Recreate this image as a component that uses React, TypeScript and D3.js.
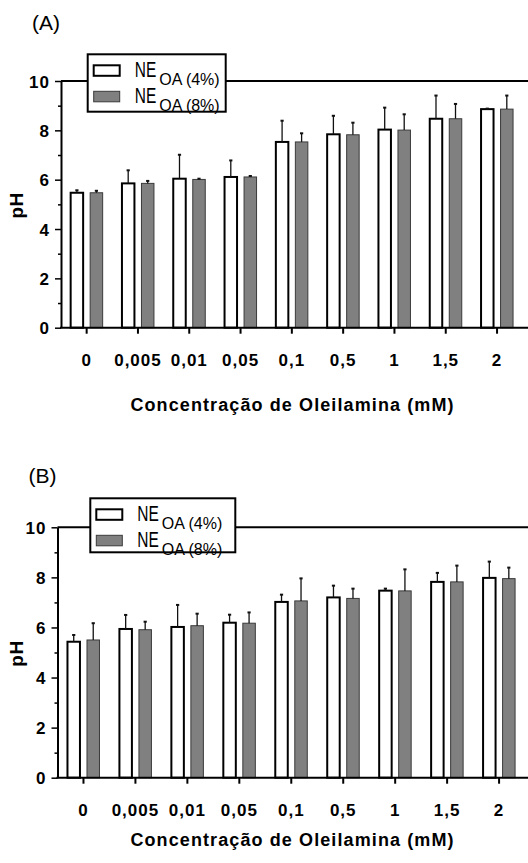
import * as d3 from "d3";
import { useEffect, useRef } from "react";

const concentrations = ["0", "0,005", "0,01", "0,05", "0,1", "0,5", "1", "1,5", "2"];
const seriesKeys = ["4%", "8%"];
const majorTicks = [0, 2, 4, 6, 8, 10];
const minorTicks = [1, 3, 5, 7, 9];

// Panel (A)
const phA4 = [5.47, 5.85, 6.04, 6.11, 7.53, 7.84, 8.03, 8.47, 8.86];
const errA4 = [0.1, 0.53, 0.97, 0.67, 0.86, 0.75, 0.89, 0.94, 0.02];
const phA8 = [5.47, 5.85, 6.01, 6.11, 7.53, 7.82, 8.01, 8.47, 8.86];
const errA8 = [0.08, 0.1, 0.03, 0.04, 0.35, 0.49, 0.64, 0.6, 0.55];

// Panel (B)
const phB4 = [5.43, 5.94, 6.02, 6.19, 7.02, 7.2, 7.47, 7.82, 7.98];
const errB4 = [0.27, 0.56, 0.88, 0.32, 0.29, 0.47, 0.08, 0.36, 0.65];
const phB8 = [5.5, 5.91, 6.07, 6.17, 7.06, 7.16, 7.46, 7.82, 7.95];
const errB8 = [0.67, 0.32, 0.48, 0.43, 0.9, 0.39, 0.86, 0.65, 0.44];

const W = 528;
const H = 863;
const FONT = "'Liberation Sans', Arial, sans-serif";

interface PanelCfg {
    label: string;
    v4: number[];
    e4: number[];
    v8: number[];
    e8: number[];
    left: number;
    y0: number;
    y10: number;
    step: number;
    labelX: number;
    labelY: number;
    titleY: number;
    legend: { x: number; y: number; w: number; h: number };
}

const panels: PanelCfg[] = [
    {
        label: "(A)", v4: phA4, e4: errA4, v8: phA8, e8: errA8,
        left: 61, y0: 327.7, y10: 81, step: 51.3,
        labelX: 32, labelY: 30, titleY: 410.5,
        legend: { x: 87.7, y: 54.3, w: 138, h: 57.4 },
    },
    {
        label: "(B)", v4: phB4, e4: errB4, v8: phB8, e8: errB8,
        left: 57.5, y0: 777.7, y10: 527.3, step: 51.95,
        labelX: 28.5, labelY: 483, titleY: 846,
        legend: { x: 90.3, y: 498.3, w: 145, h: 54 },
    },
];

function drawPanel(svg: d3.Selection<SVGSVGElement, unknown, null, undefined>, cfg: PanelCfg) {
    const g = svg.append("g");

    const x0 = d3.scaleBand<string>()
        .domain(concentrations)
        .range([cfg.left, cfg.left + cfg.step * concentrations.length]);
    const bw = x0.bandwidth();
    const x1 = d3.scaleBand<string>()
        .domain(seriesKeys)
        .range([bw / 2 - 16, bw / 2 + 16])
        .paddingInner(0.36);
    const y = d3.scaleLinear().domain([0, 10]).range([cfg.y0, cfg.y10]);

    const rows = concentrations.map((c, i) => ({
        c,
        vals: [
            { key: "4%", v: cfg.v4[i], e: cfg.e4[i] },
            { key: "8%", v: cfg.v8[i], e: cfg.e8[i] },
        ],
    }));

    // bars
    const groups = g.selectAll("g.grp")
        .data(rows)
        .enter()
        .append("g")
        .attr("transform", (d) => `translate(${x0(d.c)},0)`);

    groups.selectAll("rect")
        .data((d) => d.vals)
        .enter()
        .append("rect")
        .attr("x", (d) => x1(d.key)!)
        .attr("y", (d) => y(d.v))
        .attr("width", x1.bandwidth())
        .attr("height", (d) => y(0) - y(d.v))
        .attr("fill", (d) => (d.key === "4%" ? "white" : "#808080"))
        .attr("stroke", (d) => (d.key === "4%" ? "black" : "#3a3a3a"))
        .attr("stroke-width", (d) => (d.key === "4%" ? 2 : 1));

    // error bars (upper only)
    const eb = groups.selectAll("g.err")
        .data((d) => d.vals)
        .enter()
        .append("g");
    eb.append("line")
        .attr("x1", (d) => x1(d.key)! + x1.bandwidth() / 2)
        .attr("x2", (d) => x1(d.key)! + x1.bandwidth() / 2)
        .attr("y1", (d) => y(d.v))
        .attr("y2", (d) => y(d.v + d.e))
        .attr("stroke", "#111")
        .attr("stroke-width", 1.3);
    eb.append("line")
        .attr("x1", (d) => x1(d.key)! + x1.bandwidth() / 2 - 1.6)
        .attr("x2", (d) => x1(d.key)! + x1.bandwidth() / 2 + 1.6)
        .attr("y1", (d) => y(d.v + d.e))
        .attr("y2", (d) => y(d.v + d.e))
        .attr("stroke", "#111")
        .attr("stroke-width", 2);

    // top reference line at 10 and x baseline
    g.append("line")
        .attr("x1", cfg.left).attr("x2", W)
        .attr("y1", y(10)).attr("y2", y(10))
        .attr("stroke", "black").attr("stroke-width", 2);
    g.append("line")
        .attr("x1", cfg.left - 1).attr("x2", W)
        .attr("y1", y(0)).attr("y2", y(0))
        .attr("stroke", "black").attr("stroke-width", 2);

    // y axis
    const yAxis = g.append("g")
        .attr("transform", `translate(${cfg.left},0)`)
        .call(d3.axisLeft(y).tickValues(majorTicks).tickSize(6).tickSizeOuter(0).tickPadding(5).tickFormat(d3.format("d")));
    yAxis.select(".domain").attr("stroke-width", 2);
    yAxis.selectAll(".tick line").attr("stroke-width", 1.5);
    yAxis.selectAll("text")
        .style("font-family", FONT)
        .style("font-weight", "bold")
        .style("font-size", "17px")
        .style("letter-spacing", "1px")
        .attr("dy", "0.36em");

    const yMinor = g.append("g")
        .attr("transform", `translate(${cfg.left},0)`)
        .call(d3.axisLeft(y).tickValues(minorTicks).tickSize(3).tickSizeOuter(0).tickFormat(() => ""));
    yMinor.select(".domain").remove();
    yMinor.selectAll(".tick line").attr("stroke-width", 1.5);

    // x axis ticks and labels
    const xAxis = g.append("g")
        .attr("transform", `translate(0,${y(0)})`)
        .call(d3.axisBottom(x0).tickSize(6).tickSizeOuter(0).tickPadding(20));
    xAxis.select(".domain").remove();
    xAxis.selectAll(".tick line").attr("stroke-width", 2);
    xAxis.selectAll("text")
        .style("font-family", FONT)
        .style("font-weight", "bold")
        .style("font-size", "17px")
        .style("letter-spacing", "1px");

    // axis titles
    g.append("text")
        .attr("x", 292.5)
        .attr("y", cfg.titleY)
        .attr("text-anchor", "middle")
        .style("font-family", FONT)
        .style("font-weight", "bold")
        .style("font-size", "18px")
        .style("letter-spacing", "1.1px")
        .text("Concentração de Oleilamina (mM)");

    g.append("text")
        .attr("transform", `translate(23,${(y(0) + y(10)) / 2 + 1}) rotate(-90)`)
        .attr("text-anchor", "middle")
        .style("font-family", FONT)
        .style("font-weight", "bold")
        .style("font-size", "19px")
        .style("letter-spacing", "0.5px")
        .text("pH");

    // panel label
    g.append("text")
        .attr("x", cfg.labelX)
        .attr("y", cfg.labelY)
        .style("font-family", FONT)
        .style("font-size", "21px")
        .text(cfg.label);

    // legend
    const L = cfg.legend;
    const lg = g.append("g").attr("transform", `translate(${L.x},${L.y})`);
    lg.append("rect")
        .attr("width", L.w).attr("height", L.h)
        .attr("fill", "white").attr("stroke", "black").attr("stroke-width", 2);
    seriesKeys.forEach((k, i) => {
        const ry = i * 26;
        lg.append("rect")
            .attr("x", 6).attr("y", 11 + ry)
            .attr("width", 26).attr("height", 10.5)
            .attr("fill", k === "4%" ? "white" : "#808080")
            .attr("stroke", k === "4%" ? "black" : "#3a3a3a")
            .attr("stroke-width", k === "4%" ? 2 : 1);
        lg.append("text")
            .attr("x", 47).attr("y", 23 + ry)
            .attr("textLength", 21.5).attr("lengthAdjust", "spacingAndGlyphs")
            .style("font-family", FONT)
            .style("font-size", "22px")
            .text("NE");
        lg.append("text")
            .attr("x", 71.5).attr("y", 31 + ry)
            .style("font-family", FONT)
            .style("font-size", "16px")
            .text(`OA (${k})`);
    });
}

export default function App() {
    const svgRef = useRef<SVGSVGElement | null>(null);

    useEffect(() => {
        if (!svgRef.current) return;
        const svg = d3.select(svgRef.current);
        svg.selectAll("*").remove();
        panels.forEach((p) => drawPanel(svg, p));
    }, []);

    return (
        <svg
            ref={svgRef}
            width={W}
            height={H}
            style={{ position: "absolute", left: 0, top: 0, background: "white", display: "block" }}
        />
    );
}
